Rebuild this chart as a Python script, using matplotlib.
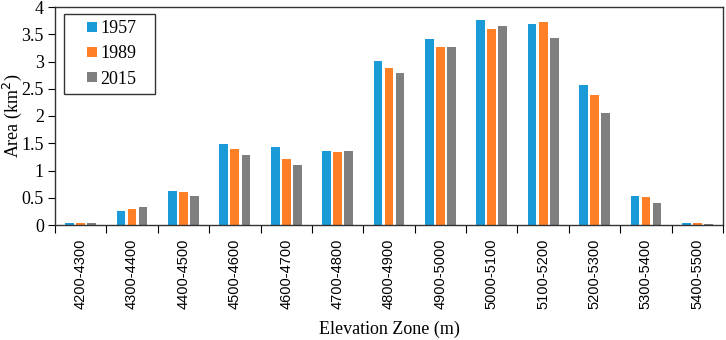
import numpy as np
import matplotlib
matplotlib.use("Agg")
import matplotlib.pyplot as plt
from matplotlib.patches import Rectangle
from matplotlib.container import BarContainer
from matplotlib.legend_handler import HandlerPatch

plt.rcParams['font.family'] = ['Liberation Serif', 'DejaVu Serif']

zones = ["4200-4300", "4300-4400", "4400-4500", "4500-4600", "4600-4700",
         "4700-4800", "4800-4900", "4900-5000", "5000-5100", "5100-5200",
         "5200-5300", "5300-5400", "5400-5500"]
area_1957 = [0.03, 0.26, 0.62, 1.49, 1.43, 1.35, 3.01, 3.41, 3.77, 3.68, 2.57, 0.53, 0.04]
area_1989 = [0.03, 0.29, 0.61, 1.40, 1.22, 1.34, 2.88, 3.26, 3.60, 3.73, 2.38, 0.51, 0.035]
area_2015 = [0.03, 0.33, 0.53, 1.29, 1.10, 1.35, 2.79, 3.26, 3.65, 3.43, 2.05, 0.40, 0.015]

series = [("1957", area_1957, "#1a9bd7"),
          ("1989", area_1989, "#ff7f27"),
          ("2015", area_2015, "#7f7f7f")]


# small square legend key sitting at the right end of the handle box
class SquareKey(HandlerPatch):
    def create_artists(self, legend, orig_handle, xdescent, ydescent,
                       width, height, fontsize, trans):
        src = orig_handle.patches[0] if isinstance(orig_handle, BarContainer) else orig_handle
        s = 0.55 * fontsize
        p = Rectangle((width - s - xdescent, -ydescent + (height - s) / 2), s, s,
                      facecolor=src.get_facecolor(), edgecolor='none',
                      transform=trans)
        return [p]


fig = plt.figure(figsize=(7.26, 3.4), dpi=100)
ax = fig.add_axes([55/726, 1-225/340, 668/726, 218/340])

x = np.arange(len(zones))
w = 0.17
step = 0.215
for i, (lab, vals, col) in enumerate(series):
    ax.bar(x + (i-1)*step, vals, width=w, color=col, label=lab)

ax.set_xlim(-0.5, len(zones)-0.5)
ax.set_ylim(0, 4)
ax.set_yticks(np.arange(0, 4.01, 0.5))
ax.set_yticklabels(["0", "0.5", "1", "1.5", "2", "2.5", "3", "3.5", "4"], fontsize=13)
ax.set_xticks(x)
ax.set_xticklabels(zones, rotation=90, fontsize=10.5, family=['Liberation Sans'])
ax.tick_params(axis='x', length=0, pad=10)
ax.set_xticks(np.arange(-0.5, len(zones)), minor=True)
ax.tick_params(axis='x', which='minor', length=6, direction='out', width=0.8)
ax.tick_params(axis='y', length=5, direction='out', width=0.8, pad=3)

for s in ax.spines.values():
    s.set_linewidth(1.0)
    s.set_color('#333333')

ax.set_ylabel("Area (km$^2$)", fontsize=13)
ax.yaxis.set_label_coords(-0.047, 0.5)
ax.set_xlabel("Elevation Zone (m)", fontsize=13)
ax.xaxis.set_label_coords(0.5, -0.44)

leg = ax.legend(loc='upper left', bbox_to_anchor=(0.0135, 0.5, 0.136, 0.468),
                mode='expand', borderaxespad=0, fontsize=13, frameon=True,
                fancybox=False, edgecolor='black',
                handler_map={BarContainer: SquareKey()},
                handlelength=1.48, handleheight=0.7, handletextpad=0.17,
                borderpad=0.35, labelspacing=0.45)
leg.get_frame().set_linewidth(1.0)

fig.savefig("out.png", dpi=100)
